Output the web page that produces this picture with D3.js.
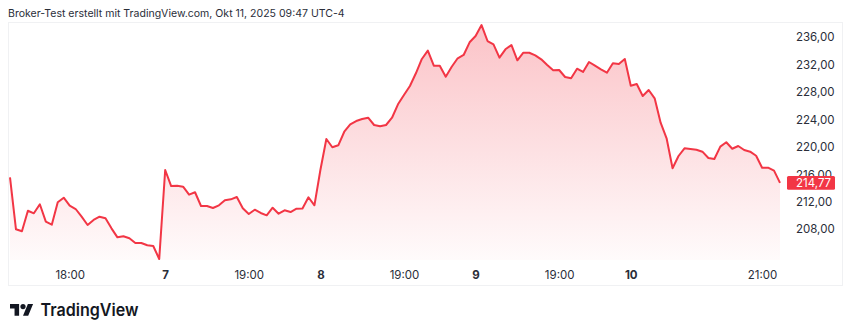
<html lang="de">
<head>
  <meta charset="UTF-8">
  <title>Broker-Test</title>
  <script src="https://d3js.org/d3.v7.min.js"></script>
  <style>
    body { margin: 0; background: #fff; }
    text { font-family: "Inter", "Roboto", sans-serif; }
  </style>
</head>
<body>
  <svg id="chart" width="850" height="335"></svg>
  <script>
    const title = "Broker-Test erstellt mit TradingView.com, Okt 11, 2025 09:47 UTC-4";

    // 15-min closes, sessions 6. - 10. Okt
    const prices = [
      215.58, 208.00, 207.71, 210.71, 210.33, 211.65, 209.11, 208.67, 211.94, 212.61,
      211.44, 210.96, 209.84, 208.63, 209.36, 209.84, 209.60, 208.14, 206.83, 206.98,
      206.69, 206.00, 206.00, 205.67, 205.56, 203.67, 216.65, 214.31, 214.36, 214.21,
      213.05, 213.40, 211.40, 211.40, 211.11, 211.50, 212.23, 212.37, 212.71, 211.06,
      210.23, 210.86, 210.38, 210.04, 211.15, 210.27, 210.77, 210.52, 211.00, 211.03,
      212.67, 211.50, 216.65, 221.17, 219.96, 220.25, 222.23, 223.31, 223.79, 224.08,
      224.27, 223.21, 223.02, 223.21, 224.27, 226.23, 227.59, 228.90, 230.75, 232.84,
      234.05, 231.86, 231.86, 230.25, 231.71, 232.94, 233.42, 235.27, 236.19, 237.79,
      235.46, 234.98, 233.03, 234.25, 234.88, 232.65, 233.75, 233.75, 233.37, 232.79,
      231.96, 231.19, 231.23, 230.21, 230.02, 231.42, 230.94, 232.40, 231.86, 231.33,
      230.84, 232.21, 232.11, 232.84, 228.94, 229.19, 227.44, 228.31, 227.10, 223.55,
      221.27, 216.90, 218.69, 219.81, 219.71, 219.61, 219.32, 218.40, 218.25, 220.05,
      220.69, 219.75, 220.15, 219.56, 219.32, 218.73, 216.98, 216.98, 216.55, 214.77
    ];

    const xTickIdx = [10, 26, 40, 52, 66, 78, 92, 104, 126];
    const xTickLabels = ["18:00", "7", "19:00", "8", "19:00", "9", "19:00", "10", "21:00"];
    const dayLabels = ["7", "8", "9", "10"];
    const yTicks = [208, 212, 216, 220, 224, 228, 232, 236];

    const red = "#f23645";
    const svg = d3.select("#chart");

    const x = d3.scaleLinear().domain([0, prices.length - 1]).range([10, 780]);
    const y = d3.scaleLinear().domain([208, 236]).range([229.3, 37.3]);
    const plotBottom = 260;
    const fmt = d => d.toFixed(2).replace(".", ",");

    // title, sized to the reference width
    const t = svg.append("text")
      .attr("x", 8).attr("y", 16.5)
      .attr("font-size", 12).attr("fill", "#2a2e39")
      .text(title);
    const tw = t.node().getComputedTextLength();
    t.attr("font-size", 12 * 337 / tw);

    // panel frame
    svg.append("rect")
      .attr("x", 8.5).attr("y", 22.5).attr("width", 834).attr("height", 263)
      .attr("fill", "none").attr("stroke", "#f0f1f3");

    // area gradient
    const grad = svg.append("defs").append("linearGradient")
      .attr("id", "fade").attr("gradientUnits", "userSpaceOnUse")
      .attr("x1", 0).attr("x2", 0).attr("y1", 25).attr("y2", plotBottom);
    grad.append("stop").attr("offset", 0).attr("stop-color", red).attr("stop-opacity", 0.3);
    grad.append("stop").attr("offset", 1).attr("stop-color", red).attr("stop-opacity", 0.02);

    const area = d3.area()
      .x((d, i) => x(i)).y0(plotBottom).y1(d => y(d));
    const line = d3.line()
      .x((d, i) => x(i)).y(d => y(d));

    svg.append("path").datum(prices)
      .attr("d", area).attr("fill", "url(#fade)");

    svg.append("path").datum(prices)
      .attr("d", line)
      .attr("fill", "none").attr("stroke", red)
      .attr("stroke-width", 2).attr("stroke-linejoin", "round");

    // y axis
    const yAxis = svg.append("g")
      .attr("transform", "translate(790,0)")
      .call(d3.axisRight(y).tickValues(yTicks).tickFormat(fmt).tickSize(0).tickPadding(6));
    yAxis.select(".domain").remove();
    yAxis.selectAll("text").attr("font-size", 11.5).attr("fill", "#2a2e39")
      .attr("font-family", "Inter, Roboto, sans-serif");

    // x axis
    const xAxis = svg.append("g")
      .attr("transform", "translate(0,267)")
      .call(d3.axisBottom(x).tickValues(xTickIdx)
        .tickFormat((d, i) => xTickLabels[i]).tickSize(0).tickPadding(4));
    xAxis.select(".domain").remove();
    xAxis.selectAll("text").attr("font-size", 11.5).attr("fill", "#2a2e39")
      .attr("font-family", "Inter, Roboto, sans-serif")
      .attr("font-weight", (d, i) => dayLabels.includes(xTickLabels[i]) ? 700 : 400);

    // last price tag (covers the 216,00 label, as in TradingView)
    const last = prices[prices.length - 1];
    svg.append("rect")
      .attr("x", 787).attr("y", y(last) - 6.8)
      .attr("width", 48).attr("height", 13.6).attr("rx", 1.5)
      .attr("fill", red);
    svg.append("text")
      .attr("x", 796).attr("y", y(last)).attr("dy", "0.35em")
      .attr("font-size", 11.5).attr("fill", "#fff")
      .text(fmt(last));

    // logo
    const logo = svg.append("g");
    logo.append("g")
      .attr("transform", "translate(10,301.4) scale(0.65)")
      .call(g => {
        g.append("path").attr("d", "M14 22H7V11H0V4h14v18zM28 22h-8l7.5-18h8L28 22z").attr("fill", "#131722");
        g.append("circle").attr("cx", 20).attr("cy", 8).attr("r", 4).attr("fill", "#131722");
      });
    logo.append("text")
      .attr("x", 40.5).attr("y", 316)
      .attr("font-size", 17).attr("font-weight", 600)
      .attr("textLength", 98).attr("lengthAdjust", "spacingAndGlyphs")
      .attr("fill", "#131722")
      .text("TradingView");
  </script>
</body>
</html>
